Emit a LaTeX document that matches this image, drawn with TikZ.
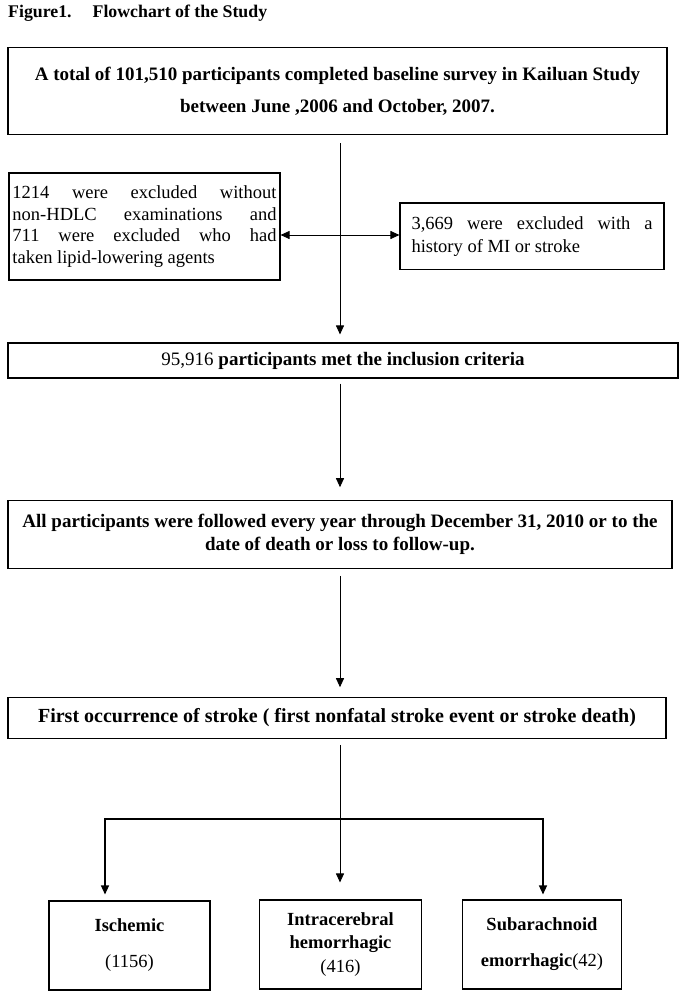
\documentclass[tikz,border=0pt]{standalone}
\usepackage{fontspec}
\setmainfont{Liberation Serif}
\usetikzlibrary{arrows.meta}

\tikzset{
  caja/.style={draw, line width=1.1pt, inner sep=2pt, align=center},
  flecha/.style={line width=0.9pt, -{Triangle[length=9pt,width=8pt]}},
}

\begin{document}
\begin{tikzpicture}[x=1pt, y=-1pt]
      \useasboundingbox (0,0) rectangle (684,998);

      % Titulo
      \node[anchor=base west, inner sep=0pt, font=\fontsize{17.8}{20}\selectfont\bfseries] (titulo) at (8,18)
        {Figure1.\hspace{21pt}Flowchart of the Study};

      % Cajas principales
      \node[caja, minimum width=659, minimum height=87, font=\fontsize{19}{32}\selectfont\bfseries] (base) at (337.5,91)
        {A total of 101,510 participants completed baseline survey in Kailuan Study\\between June ,2006 and October, 2007.};
      \node[caja, minimum width=670, minimum height=35, font=\fontsize{19}{22}\selectfont\bfseries] (incl) at (343,360.5)
        {{\mdseries 95,916} participants met the inclusion criteria};
      \node[caja, minimum width=664, minimum height=67.5, font=\fontsize{19}{23}\selectfont\bfseries] (segui) at (340,534.5)
        {All participants were followed every year through December 31, 2010 or to the\\date of death or loss to follow-up.};
      \node[caja, minimum width=658, minimum height=40.5, font=\fontsize{20}{22}\selectfont\bfseries] (ictus) at (337,718)
        {First occurrence of stroke ( first nonfatal stroke event or stroke death)};

      % Exclusiones
      \node[caja, align=left, minimum width=271, minimum height=107, font=\fontsize{18.5}{21.5}\selectfont] (excl1) at (144.5,226.5)
        {\makebox[264pt][s]{1214 were excluded without}\\
         \makebox[264pt][s]{non-HDLC examinations and}\\
         \makebox[264pt][s]{711 were excluded who had}\\
         taken lipid-lowering agents};
      \node[caja, align=left, minimum width=264, minimum height=66.5, font=\fontsize{18.5}{23}\selectfont] (excl2) at (532,236.25)
        {\makebox[241pt][s]{3,669 were excluded with a}\\
         history of MI or stroke};

      % Subtipos
      \node[caja, minimum width=161, minimum height=89, font=\fontsize{18.5}{36}\selectfont\bfseries] (isq) at (129.5,945.5)
        {Ischemic\\{\mdseries (1156)}};
      \node[caja, minimum width=161.5, minimum height=89, font=\fontsize{18.5}{23.3}\selectfont\bfseries] (intra) at (340.5,944.5)
        {Intracerebral\\hemorrhagic\\{\mdseries (416)}};
      \node[caja, minimum width=159.5, minimum height=89, font=\fontsize{18.5}{36}\selectfont\bfseries] (subar) at (542,944.5)
        {Subarachnoid\\emorrhagic{\mdseries (42)}};

      % Flechas
      \coordinate (eje) at (340,0);
      \draw[flecha, shorten <=8pt, shorten >=8pt] (base.south -| eje) -- (incl.north -| eje);
      \draw[line width=0.9pt, {Triangle[length=9pt,width=8pt]}-{Triangle[length=9pt,width=8pt]}]
        (excl1.east |- 0,235) -- (excl2.west |- 0,235);
      \draw[flecha, shorten <=5pt, shorten >=13pt] (incl.south -| eje) -- (segui.north -| eje);
      \draw[flecha, shorten <=7pt, shorten >=10pt] (segui.south -| eje) -- (ictus.north -| eje);
      \draw[flecha, shorten <=6pt, shorten >=17pt] (ictus.south -| eje) -- (intra.north -| eje);

      % Ramas
      \coordinate (ramaI) at (105,819);
      \coordinate (ramaD) at (543,819);
      \draw[line width=1.8pt, line cap=rect] (ramaI) -- (ramaD);
      \draw[flecha, line width=1.3pt, shorten >=6pt] (ramaI) -- (isq.north -| ramaI);
      \draw[flecha, line width=1.3pt, shorten >=5pt] (ramaD) -- (subar.north -| ramaD);
\end{tikzpicture}
\end{document}
